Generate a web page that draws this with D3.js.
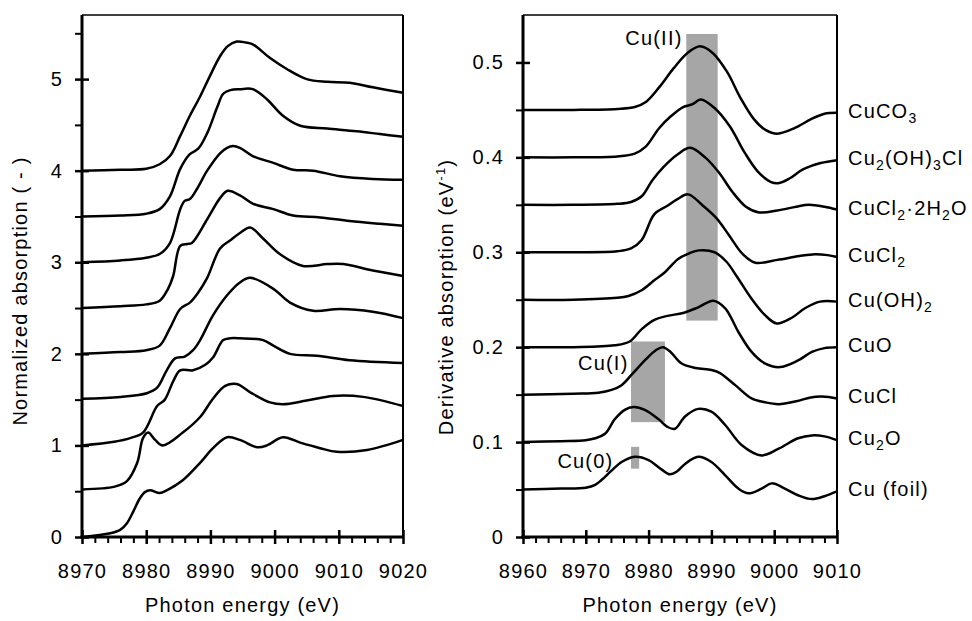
<!DOCTYPE html>
<html>
<head>
<meta charset="utf-8">
<script src="https://cdn.jsdelivr.net/npm/d3@7"></script>
<style>
  body { margin: 0; background: #fff; }
  text { font-family: "Liberation Sans", Arial, sans-serif; font-size: 20px; letter-spacing: 1.2px; fill: #000; }
</style>
</head>
<body>
<div id="chart"></div>
<script>
// samples, top to bottom ("_" marks a subscript digit)
var samples = ["CuCO_3", "Cu_2(OH)_3Cl", "CuCl_2·2H_2O", "CuCl_2", "Cu(OH)_2", "CuO", "CuCl", "Cu_2O", "Cu (foil)"];
var xanesOffset = [4, 3.5, 3, 2.5, 2, 1.5, 1, 0.5, 0];
var derivOffset = [0.45, 0.40, 0.35, 0.30, 0.25, 0.20, 0.15, 0.10, 0.05];

// normalized XANES, [energy eV, absorption]
var xanesCuCO3 = [[8970,0],[8976,0.01],[8980,0.02],[8982.1,0.07],[8983.7,0.16],[8985.3,0.38],[8986.8,0.60],[8988.4,0.81],[8989.9,1.03],[8991.5,1.25],[8992.7,1.36],[8994.1,1.41],[8995.5,1.40],[8996.6,1.38],[8999.3,1.23],[9001.9,1.11],[9005,1.00],[9008.2,0.97],[9011.7,0.96],[9015.3,0.91],[9020,0.85]];
var xanesCu2OH3Cl = [[8970,0],[8976,0.01],[8980,0.03],[8982.1,0.08],[8983.7,0.22],[8985.3,0.52],[8986.8,0.68],[8988.1,0.74],[8989.5,0.91],[8991.1,1.20],[8992,1.34],[8993.1,1.38],[8994.6,1.39],[8996.6,1.39],[8998.8,1.28],[9001.3,1.10],[9004,0.99],[9008.2,0.96],[9012.8,0.93],[9016.4,0.90],[9020,0.87]];
var xanesCuCl2H2O = [[8970,0],[8976,0.02],[8980,0.05],[8982.1,0.09],[8983.7,0.21],[8985.3,0.58],[8986,0.67],[8986.8,0.69],[8987.9,0.80],[8989.5,1.00],[8991.5,1.19],[8992.6,1.25],[8993.5,1.27],[8994.6,1.25],[8996.6,1.16],[8999.8,1.085],[9002.9,1.01],[9006,1.00],[9010.2,0.94],[9015.3,0.91],[9020,0.90]];
var xanesCuCl2 = [[8970,0],[8976,0.02],[8980,0.04],[8982.1,0.08],[8983.4,0.21],[8984.2,0.35],[8985.3,0.68],[8986.4,0.70],[8987.1,0.71],[8989.5,0.97],[8991.5,1.20],[8992.7,1.28],[8994.6,1.23],[8996.6,1.14],[8999.8,1.08],[9002.9,1.01],[9007.1,0.99],[9011.7,0.95],[9016.4,0.92],[9020,0.90]];
var xanesCuOH2 = [[8970,0],[8976,0.02],[8980,0.04],[8982.1,0.09],[8983.7,0.28],[8985.3,0.49],[8986.8,0.56],[8988,0.66],[8989.5,0.83],[8991.5,1.15],[8993.1,1.24],[8994.6,1.32],[8996.2,1.38],[8998.2,1.26],[9000.8,1.09],[9004.4,0.96],[9008.2,0.98],[9010.7,0.98],[9015.3,0.91],[9020,0.85]];
var xanesCuO = [[8970,0.01],[8976,0.03],[8980.1,0.07],[8981.7,0.13],[8983.2,0.32],[8984.5,0.45],[8986,0.47],[8987.3,0.54],[8988.4,0.65],[8990.4,0.92],[8992.6,1.14],[8994.6,1.28],[8996.2,1.33],[8999.8,1.21],[9002.4,1.06],[9006,0.97],[9010.2,0.99],[9015.3,0.96],[9020,0.89]];
var xanesCuCl = [[8970,0],[8975,0.04],[8977.5,0.08],[8979.5,0.14],[8981.7,0.43],[8982.9,0.50],[8984.2,0.70],[8985.3,0.82],[8987.3,0.82],[8989.2,0.88],[8990.4,0.96],[8992,1.15],[8993.1,1.17],[8994.6,1.17],[8998.2,1.15],[8999.8,1.09],[9002.4,1.00],[9006.6,0.98],[9011.7,0.93],[9020,0.90]];
var xanesCu2O = [[8970,0.02],[8975.1,0.05],[8977,0.11],[8978.6,0.31],[8979.5,0.58],[8980.3,0.64],[8981.4,0.56],[8982.6,0.50],[8985.7,0.64],[8988.4,0.81],[8990.4,1.01],[8992.3,1.15],[8994.1,1.17],[8996.2,1.08],[8999.3,0.97],[9001.3,0.95],[9005,0.99],[9009.1,1.04],[9013.8,1.03],[9020,0.93]];
var xanesCuFoil = [[8970,0],[8974.4,0.04],[8976,0.08],[8977,0.15],[8978,0.28],[8979,0.42],[8979.8,0.49],[8980.6,0.51],[8982.1,0.48],[8983.2,0.51],[8985.7,0.62],[8988.4,0.81],[8990.4,0.97],[8992.6,1.09],[8994.6,1.06],[8997.3,0.98],[8998.8,1.00],[9001.3,1.09],[9004,1.03],[9007.1,0.97],[9009.7,0.93],[9014.4,0.95],[9020,1.06]];

// first derivative, [energy eV, eV^-1]
var derivCuCO3 = [[8960,0],[8968,0],[8975,0.001],[8977.8,0.003],[8979.5,0.008],[8981.7,0.024],[8984,0.044],[8986.2,0.060],[8988.2,0.067],[8990.2,0.060],[8992.5,0.040],[8994.6,0.013],[8996.8,-0.010],[8998.6,-0.021],[9000.5,-0.025],[9003.3,-0.019],[9005.8,-0.010],[9008,-0.004],[9010,-0.003]];
var derivCu2OH3Cl = [[8960,0],[8968,0],[8975,0.001],[8977.8,0.004],[8979.5,0.011],[8981.7,0.031],[8983.5,0.043],[8985.5,0.053],[8987,0.056],[8988.3,0.061],[8990.5,0.052],[8992.9,0.033],[8995.3,0.005],[8997.4,-0.015],[8999.5,-0.026],[9000.8,-0.027],[9002.5,-0.022],[9004.5,-0.013],[9007.4,-0.006],[9010,-0.003]];
var derivCuCl2H2O = [[8960,0],[8968,0],[8975,0.001],[8977.2,0.003],[8978.9,0.009],[8980.6,0.026],[8982.4,0.040],[8984.6,0.053],[8986.6,0.060],[8989,0.050],[8991.2,0.034],[8993.3,0.014],[8995.5,-0.002],[8997.6,-0.008],[9000.5,-0.006],[9003.5,-0.002],[9005.5,0],[9008,-0.002],[9010,-0.005]];
var derivCuCl2 = [[8960,0],[8968,0],[8975,0.001],[8977.2,0.004],[8978.9,0.013],[8980.9,0.040],[8983,0.049],[8984.6,0.056],[8986.3,0.061],[8988.5,0.050],[8990.8,0.036],[8992.8,0.018],[8995,-0.002],[8997,-0.011],[9000.5,-0.008],[9004,-0.004],[9006.5,-0.002],[9008.5,-0.003],[9010,-0.005]];
var derivCuOH2 = [[8960,0],[8968,0],[8975,0.002],[8976.8,0.004],[8978.9,0.010],[8981,0.021],[8982.6,0.029],[8984.7,0.043],[8986.5,0.049],[8988,0.052],[8990.5,0.050],[8992.4,0.040],[8994,0.025],[8996.4,0.001],[8998.5,-0.016],[9000.4,-0.025],[9002.8,-0.019],[9004.9,-0.009],[9007.3,-0.002],[9010,-0.002]];
var derivCuO = [[8960,0],[8968,0],[8974.6,0.002],[8977,0.006],[8978.9,0.019],[8981,0.029],[8983,0.033],[8985.5,0.036],[8987.9,0.042],[8990.3,0.049],[8992.2,0.041],[8994.3,0.016],[8996.4,-0.005],[8998.5,-0.017],[9000.9,-0.021],[9003.8,-0.014],[9006,-0.005],[9008,-0.001],[9010,0]];
var derivCuCl = [[8960,0],[8968,0.001],[8972,0.002],[8974.1,0.005],[8975.7,0.010],[8977.3,0.021],[8979.4,0.036],[8981.2,0.047],[8982.3,0.050],[8983.5,0.045],[8985.2,0.033],[8987.5,0.028],[8990,0.026],[8991.3,0.023],[8993.8,0.010],[8996.4,-0.004],[8998.5,-0.008],[9000.7,-0.010],[9003.5,-0.007],[9005.8,-0.003],[9007.5,-0.002],[9010,-0.004]];
var derivCu2O = [[8960,0],[8966,0.001],[8970,0.002],[8971.5,0.004],[8973.1,0.009],[8974.6,0.024],[8976.2,0.034],[8977.6,0.037],[8979.4,0.034],[8981.6,0.024],[8983,0.016],[8984.2,0.014],[8985.8,0.027],[8987.9,0.035],[8990,0.032],[8992.2,0.018],[8994.8,-0.003],[8998,-0.014],[9000.7,-0.007],[9003.8,0.004],[9006,0.007],[9008,0.006],[9010,0.002]];
var derivCuFoil = [[8960,0],[8966,0.001],[8970,0.002],[8971.5,0.005],[8972.5,0.010],[8974.1,0.020],[8975.7,0.029],[8977.8,0.0345],[8980,0.031],[8982.1,0.021],[8983.4,0.016],[8984.5,0.019],[8985.8,0.027],[8987.9,0.0345],[8990,0.029],[8992.2,0.015],[8994.3,0.001],[8995.9,-0.004],[8998,0.001],[8999.6,0.0065],[9001.7,0.001],[9003.8,-0.006],[9006,-0.010],[9008,-0.007],[9010,-0.002]];

var xanesData = [xanesCuCO3, xanesCu2OH3Cl, xanesCuCl2H2O, xanesCuCl2, xanesCuOH2, xanesCuO, xanesCuCl, xanesCu2O, xanesCuFoil];
var derivData = [derivCuCO3, derivCu2OH3Cl, derivCuCl2H2O, derivCuCl2, derivCuOH2, derivCuO, derivCuCl, derivCu2O, derivCuFoil];

// oxidation state bands on the derivative panel
var bandNames = ["Cu(II)", "Cu(I)", "Cu(0)"];
var bandEnergyLo = [8986, 8977.2, 8977.2];
var bandEnergyHi = [8991, 8982.6, 8978.5];
var bandDerivLo = [0.228, 0.121, 0.072];
var bandDerivHi = [0.53, 0.206, 0.095];
var bandLabelEnergy = [8985.4, 8976.8, 8974.4];
var bandLabelDeriv = [0.518, 0.176, 0.073];

var xanesYTicks = [0, 1, 2, 3, 4, 5];
var xanesYMinor = [0.5, 1.5, 2.5, 3.5, 4.5, 5.5];
var xanesXTicks = [8970, 8980, 8990, 9000, 9010, 9020];
var derivYTicks = [0, 0.1, 0.2, 0.3, 0.4, 0.5];
var derivYMinor = [0.05, 0.15, 0.25, 0.35, 0.45];
var derivXTicks = [8960, 8970, 8980, 8990, 9000, 9010];

function init() {
  var W = 972, H = 621;
  var svg = d3.select("#chart").append("svg")
    .attr("width", W).attr("height", H);

  function panel(p) {
    var x = d3.scaleLinear().domain(p.xDomain).range([p.left, p.right]);
    var y = d3.scaleLinear().domain(p.yDomain).range([p.bottom, p.top]);
    var g = svg.append("g");

    // minor ticks, outward
    var xMinor = d3.range(p.xDomain[0] + 2, p.xDomain[1], 2).filter(function(v) { return v % 10 !== 0; });
    g.append("g").attr("transform", "translate(0," + p.bottom + ")")
      .call(d3.axisBottom(x).tickValues(xMinor).tickSize(6).tickFormat(""))
      .call(function(a) { a.select(".domain").remove(); a.selectAll(".tick line").attr("stroke-width", 2); });
    g.append("g").attr("transform", "translate(" + p.left + ",0)")
      .call(d3.axisLeft(y).tickValues(p.yMinor).tickSize(7).tickFormat(""))
      .call(function(a) { a.select(".domain").remove(); a.selectAll(".tick line").attr("stroke-width", 2); });

    // major ticks crossing the axis
    g.append("g").attr("transform", "translate(0," + p.bottom + ")")
      .call(d3.axisBottom(x).tickValues(p.xTicks).tickSize(7).tickPadding(20).tickFormat(d3.format("d")))
      .call(function(a) {
        a.attr("font-size", null).attr("font-family", null);
        a.select(".domain").remove();
        a.selectAll(".tick line").attr("y1", -7).attr("stroke-width", 2.5);
      });
    g.append("g").attr("transform", "translate(" + p.left + ",0)")
      .call(d3.axisLeft(y).tickValues(p.yTicks).tickSize(7).tickPadding(12).tickFormat(p.yFormat))
      .call(function(a) {
        a.attr("font-size", null).attr("font-family", null);
        a.select(".domain").remove();
        a.selectAll(".tick line").attr("x1", 7).attr("stroke-width", 2.5);
      });

    // frame
    g.append("line").attr("x1", p.left).attr("x2", p.right).attr("y1", p.top).attr("y2", p.top)
      .attr("stroke", "#000").attr("stroke-width", 1.5);
    g.append("line").attr("x1", p.right).attr("x2", p.right).attr("y1", p.top).attr("y2", p.bottom)
      .attr("stroke", "#000").attr("stroke-width", 2);
    g.append("line").attr("x1", p.left).attr("x2", p.left).attr("y1", p.top).attr("y2", p.bottom + 1.5)
      .attr("stroke", "#000").attr("stroke-width", 3);
    g.append("line").attr("x1", p.left - 1.5).attr("x2", p.right + 1).attr("y1", p.bottom).attr("y2", p.bottom)
      .attr("stroke", "#000").attr("stroke-width", 3);

    // axis titles
    g.append("text")
      .attr("text-anchor", "middle")
      .attr("x", (p.left + p.right) / 2)
      .attr("y", 612)
      .text("Photon energy (eV)");

    return { g: g, x: x, y: y };
  }

  function curves(pn, data, offsets) {
    var line = d3.line()
      .x(function(d) { return pn.x(d[0]); })
      .y(function(d) { return pn.y(d[1] + d[2]); })
      .curve(d3.curveCatmullRom.alpha(0.5));
    pn.g.selectAll("path.spec")
      .data(data.map(function(s, i) { return s.map(function(d) { return [d[0], d[1], offsets[i]]; }); }))
      .enter().append("path")
      .attr("class", "spec")
      .attr("d", line)
      .attr("fill", "none")
      .attr("stroke", "#000")
      .attr("stroke-width", 2.5)
      .attr("stroke-linejoin", "round");
  }

  function richText(sel, label) {
    var parts = label.split(/_(\d)/);
    var lowered = false;
    parts.forEach(function(t, i) {
      if (t === "") return;
      var sub = i % 2 === 1;
      var ts = sel.append("tspan").text(t);
      if (sub) {
        ts.style("font-size", "14px").attr("dy", lowered ? 0 : 5);
        lowered = true;
      } else if (lowered) {
        ts.attr("dy", -5);
        lowered = false;
      }
    });
  }

  // ---- left: normalized XANES
  var left = panel({
    left: 82, right: 403, top: 15, bottom: 537,
    xDomain: [8970, 9020], yDomain: [0, 5.7],
    xTicks: xanesXTicks, yTicks: xanesYTicks, yMinor: xanesYMinor,
    yFormat: d3.format("d")
  });
  curves(left, xanesData, xanesOffset);
  svg.append("text")
    .attr("text-anchor", "middle")
    .attr("transform", "translate(27,291) rotate(-90)")
    .text("Normalized absorption ( - )");

  // ---- right: derivative
  var right = panel({
    left: 523, right: 837, top: 15, bottom: 537,
    xDomain: [8960, 9010], yDomain: [0, 0.55],
    xTicks: derivXTicks, yTicks: derivYTicks, yMinor: derivYMinor,
    yFormat: function(d) { return d === 0 ? "0" : d3.format(".1f")(d); }
  });

  right.g.insert("g", ":first-child").selectAll("rect")
    .data(bandNames)
    .enter().append("rect")
    .attr("x", function(d, i) { return right.x(bandEnergyLo[i]); })
    .attr("width", function(d, i) { return right.x(bandEnergyHi[i]) - right.x(bandEnergyLo[i]); })
    .attr("y", function(d, i) { return right.y(bandDerivHi[i]); })
    .attr("height", function(d, i) { return right.y(bandDerivLo[i]) - right.y(bandDerivHi[i]); })
    .attr("fill", "#a6a6a6");

  curves(right, derivData, derivOffset);

  right.g.selectAll("text.band")
    .data(bandNames)
    .enter().append("text")
    .attr("class", "band")
    .attr("text-anchor", "end")
    .attr("x", function(d, i) { return right.x(bandLabelEnergy[i]); })
    .attr("y", function(d, i) { return right.y(bandLabelDeriv[i]); })
    .text(function(d) { return d; });

  // sample labels at the right end of each derivative curve
  samples.forEach(function(s, i) {
    var last = derivData[i][derivData[i].length - 1];
    var t = right.g.append("text")
      .attr("x", 848)
      .attr("y", right.y(last[1] + derivOffset[i]) + 5);
    richText(t, s);
  });

  var yt = svg.append("text")
    .attr("text-anchor", "middle")
    .attr("transform", "translate(453,297) rotate(-90)");
  yt.append("tspan").text("Derivative absorption (eV");
  yt.append("tspan").text("-1").style("font-size", "13px").attr("dy", -8);
  yt.append("tspan").text(")").attr("dy", 8);
}

window.onload = init;
</script>
</body>
</html>
